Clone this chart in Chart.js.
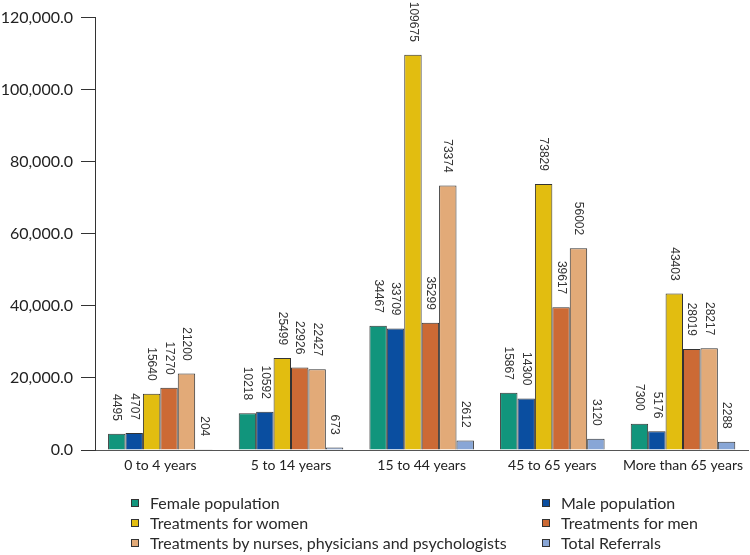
<!DOCTYPE html>
<html>
<head>
<meta charset="utf-8">
<script src="https://cdn.jsdelivr.net/npm/chart.js@4.4.1/dist/chart.umd.min.js"></script>
<style>
  html, body { margin: 0; padding: 0; background: #fff; }
  #wrap { position: relative; width: 750px; height: 555px; }
  #legend {
    position: absolute; left: 131px; top: 493px;
    display: grid; grid-template-columns: 411px 200px; row-gap: 1px;
    font-family: Lato, sans-serif; font-size: 16px; color: #2a2a2a;
  }
  #legend div { display: flex; align-items: center; height: 19px; white-space: nowrap; }
  #legend span.box { flex: 0 0 auto; width: 6px; height: 6px; border: 1px solid #333; margin-right: 11px; }
</style>
</head>
<body>
<div id="wrap">
  <canvas id="myChart" width="750" height="555"></canvas>
  <div id="legend"></div>
</div>
<script>
const categories = ['0 to 4 years', '5 to 14 years', '15 to 44 years', '45 to 65 years', 'More than 65 years'];
const seriesNames = [
  'Female population',
  'Male population',
  'Treatments for women',
  'Treatments for men',
  'Treatments by nurses, physicians and psychologists',
  'Total Referrals'
];
const femalePopulation = [4495, 10218, 34467, 15867, 7300];
const malePopulation = [4707, 10592, 33709, 14300, 5176];
const treatmentsWomen = [15640, 25499, 109675, 73829, 43403];
const treatmentsMen = [17270, 22926, 35299, 39617, 28019];
const treatmentsStaff = [21200, 22427, 73374, 56002, 28217];
const totalReferrals = [204, 673, 2612, 3120, 2288];
const yTicks = [0, 20000, 40000, 60000, 80000, 100000, 120000];

const colors = ['#11957c', '#0a4ea0', '#e2bd10', '#cc6a35', '#e2aa78', '#88a6d6'];
const allValues = [femalePopulation, malePopulation, treatmentsWomen, treatmentsMen, treatmentsStaff, totalReferrals];

const fmt = v => v.toLocaleString('en-US', {minimumFractionDigits: 1, maximumFractionDigits: 1});

// vertical value labels above each bar
const barLabels = {
  id: 'barLabels',
  afterDatasetsDraw(chart) {
    const {ctx} = chart;
    ctx.save();
    ctx.font = '12px "Liberation Sans", Arial, sans-serif';
    ctx.fillStyle = '#333';
    ctx.textAlign = 'right';
    ctx.textBaseline = 'middle';
    chart.data.datasets.forEach((ds, i) => {
      chart.getDatasetMeta(i).data.forEach((bar, j) => {
        ctx.save();
        ctx.translate(bar.x, bar.y - 13);
        ctx.rotate(Math.PI / 2);
        ctx.fillText(String(ds.data[j]), 0, 0);
        ctx.restore();
      });
    });
    ctx.restore();
  }
};

const ctx = document.getElementById('myChart').getContext('2d');
const chart = new Chart(ctx, {
  type: 'bar',
  data: {
    labels: categories,
    datasets: seriesNames.map((name, i) => ({
      label: name,
      data: allValues[i],
      backgroundColor: colors[i],
      borderColor: '#333',
      borderWidth: 1,
      categoryPercentage: 0.8,
      barPercentage: 1.0
    }))
  },
  options: {
    responsive: false,
    animation: false,
    layout: { padding: { top: 17, right: 0, left: 0, bottom: 0 } },
    plugins: {
      legend: { display: false },
      tooltip: { enabled: false }
    },
    scales: {
      x: {
        grid: { display: true, drawOnChartArea: false, drawTicks: false },
        border: { display: true, color: '#555', width: 1 },
        ticks: {
          padding: 7,
          color: '#222',
          autoSkip: false,
          maxRotation: 0,
          font: { family: 'Lato', size: 14 }
        },
        afterFit: s => { s.height = 105; }
      },
      y: {
        min: 0,
        max: 120000,
        afterBuildTicks: s => { s.ticks = yTicks.map(v => ({value: v})); },
        grid: { drawOnChartArea: false, drawTicks: true, tickLength: 14, color: '#333' },
        border: { display: true, color: '#333', width: 1 },
        ticks: {
          padding: 8,
          color: '#222',
          font: { family: 'Lato', size: 16 },
          callback: v => fmt(v)
        },
        afterFit: s => { s.width = 95; }
      }
    }
  },
  plugins: [barLabels]
});

const legend = document.getElementById('legend');
seriesNames.forEach((name, i) => {
  const item = document.createElement('div');
  item.innerHTML = `<span class="box" style="background:${colors[i]}"></span>${name}`;
  legend.appendChild(item);
});
</script>
</body>
</html>
